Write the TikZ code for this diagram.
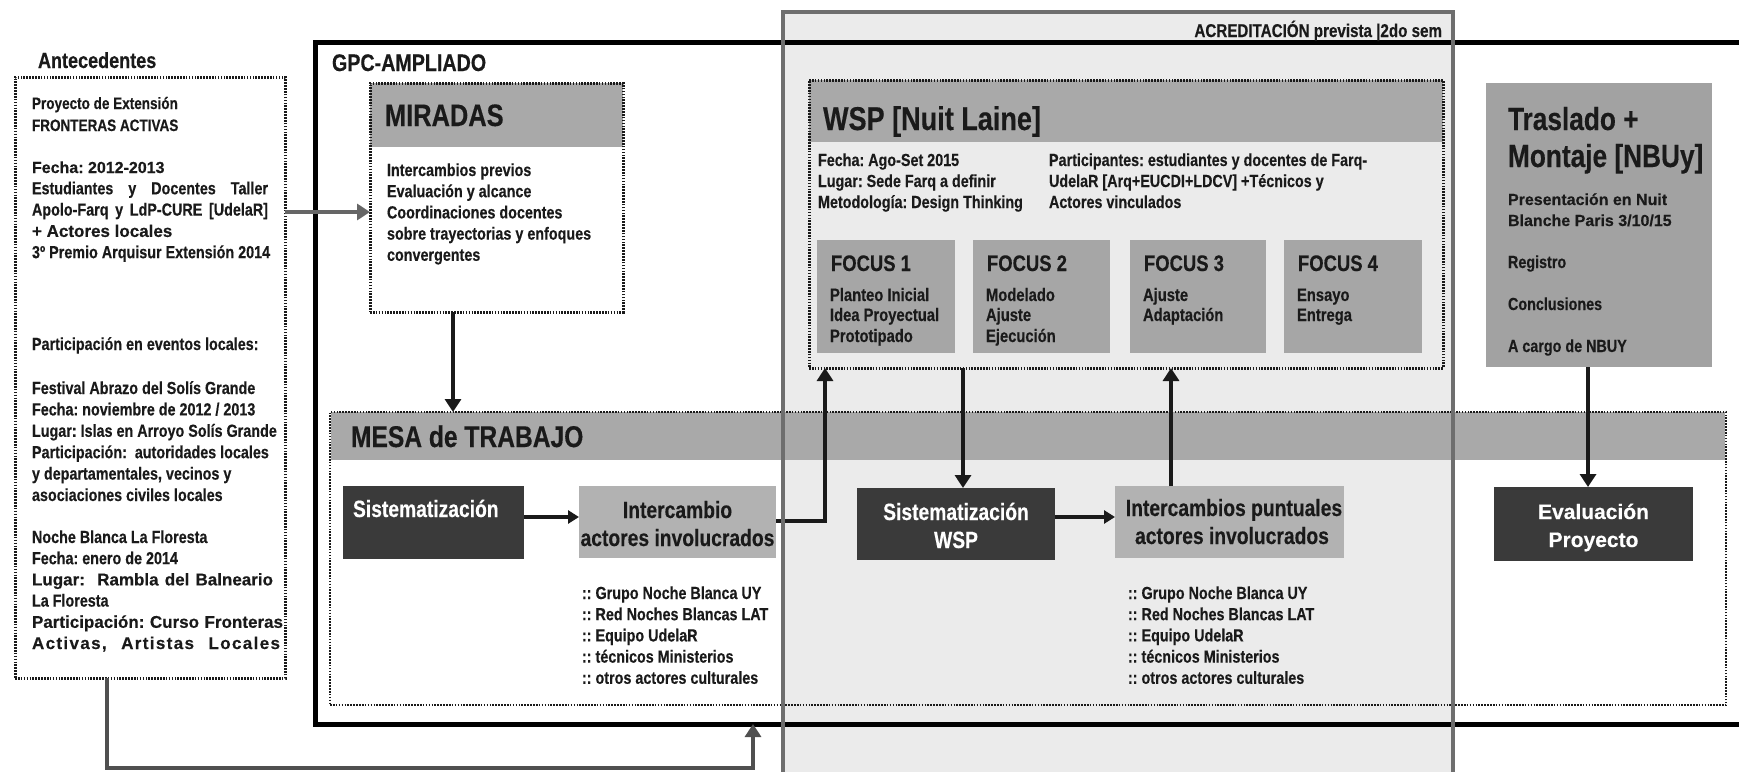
\documentclass[tikz,border=0pt]{standalone}
\usepackage{fontspec}
\setmainfont{Liberation Sans}
\newfontfamily\cf[FakeStretch=0.82,FakeBold=0.35]{Liberation Sans}
\newfontfamily\cw[FakeBold=0.35]{Liberation Sans}
\newfontfamily\cls[LetterSpace=8,FakeBold=0.35]{Liberation Sans}
\usetikzlibrary{arrows.meta}
\definecolor{acrfill}{HTML}{EBEBEB}
\definecolor{acrline}{HTML}{6E6E6E}
\definecolor{hdr}{HTML}{A9A9A9}
\definecolor{focusc}{HTML}{A6A6A6}
\definecolor{trasc}{HTML}{A2A2A2}
\definecolor{intc}{HTML}{B2B2B2}
\definecolor{darkc}{HTML}{3A3A3A}
\definecolor{ink}{HTML}{1A1A1A}
\definecolor{arrgray}{HTML}{666666}
\definecolor{conn}{HTML}{505050}
\newcommand\setfs[2]{\fontsize{#1}{#2}\selectfont}
\tikzset{
  boxr/.style={inner sep=0pt, outer sep=0pt, anchor=north west},
  dotbox/.style={boxr, draw=ink, line width=3pt, dash pattern=on 1.6pt off 1.3pt},
  txt/.style={inner sep=0pt, outer sep=0pt, anchor=base west, text=ink},
  ctxt/.style={txt, anchor=base},
  bodytxt/.style={txt, font=\frenchspacing\cf\bfseries\setfs{17.5}{21}},
  widetxt/.style={txt, font=\frenchspacing\cw\bfseries\setfs{17}{21}},
  conarr/.style={-{Triangle[length=13pt,width=16pt]}, line width=4.5pt, draw=ink},
  thinarr/.style={-{Triangle[length=11pt,width=13pt]}, line width=3.5pt, draw=ink},
}
\begin{document}
\begin{tikzpicture}[x=1pt,y=-1pt]
\useasboundingbox (0,0) rectangle (1739,771);
\fill[white] (0,0) rectangle (1739,771);
% accreditation band (background)
\node[boxr, fill=acrfill, minimum width=670pt, minimum height=780pt] (acr) at (783,12) {};
% GPC box
\node[boxr, draw=black, line width=5pt, minimum width=1440pt, minimum height=682pt] (gpc) at (315,42) {};
\node[txt, font=\cf\bfseries\setfs{24}{28}] (gpct) at (332,71) {GPC-AMPLIADO};
\node[txt, anchor=base east, font=\cf\bfseries\setfs{18.5}{22}] (acrt) at (1442,37) {ACREDITACIÓN prevista |2do sem};
% Antecedentes
\node[txt, font=\cf\bfseries\setfs{22}{26}] (antt) at (38,68) {Antecedentes};
\node[dotbox, minimum width=270pt, minimum height=601pt] (ant) at (15,77) {};
\node[txt, font=\cf\bfseries\setfs{16.5}{20}] (antp0) at (32,109) {Proyecto de Extensión};
\node[txt, font=\cf\bfseries\setfs{16.5}{20}] (antp1) at (32,131) {FRONTERAS ACTIVAS};
\node[widetxt, font=\frenchspacing\cw\bfseries\setfs{16}{21}] (antA0) at (32,173) {Fecha: 2012-2013};
\node[bodytxt] (antA1) at (32,194.3) {\makebox[236pt][s]{Estudiantes y Docentes Taller}};
\node[bodytxt] (antA2) at (32,215.6) {\makebox[236pt][s]{Apolo-Farq y LdP-CURE [UdelaR]}};
\node[widetxt] (antA3) at (32,236.9) {+ Actores locales};
\node[bodytxt] (antA4) at (32,258.2) {3º Premio Arquisur Extensión 2014};
\node[bodytxt] (antpart) at (32,350) {Participación en eventos locales:};
\foreach \s [count=\i from 0] in {{Festival Abrazo del Solís Grande},{Fecha: noviembre de 2012 / 2013},{Lugar: Islas en Arroyo Solís Grande},{Participación:\ \ autoridades locales},{y departamentales, vecinos y},{asociaciones civiles locales}}
  \node[bodytxt] (antB\i) at (32,394+21.4*\i) {\s};
\node[bodytxt] (antC0) at (32,543) {Noche Blanca La Floresta};
\node[bodytxt] (antC1) at (32,564.2) {Fecha: enero de 2014};
\node[widetxt] (antC2) at (32,585.4) {\makebox[241pt][s]{Lugar:\ \ Rambla del Balneario}};
\node[bodytxt] (antC3) at (32,606.6) {La Floresta};
\node[widetxt] (antC4) at (32,627.8) {\makebox[251pt][s]{Participación: Curso Fronteras}};
\node[widetxt, font=\frenchspacing\cls\bfseries\setfs{17}{21}] (antC5) at (32,649) {\makebox[248pt][s]{Activas, Artistas Locales}};
% MIRADAS
\node[boxr, fill=hdr, minimum width=253pt, minimum height=64pt] (mirh) at (370,83) {};
\node[dotbox, minimum width=253pt, minimum height=229pt] (mir) at (370,83) {};
\node[txt, font=\cf\bfseries\setfs{31}{36}] (mirt) at (385,126) {MIRADAS};
\foreach \s [count=\i from 0] in {{Intercambios previos},{Evaluación y alcance},{Coordinaciones docentes},{sobre trayectorias y enfoques},{convergentes}}
  \node[bodytxt] (mirb\i) at (387,176+21.2*\i) {\s};
% WSP
\node[boxr, fill=hdr, minimum width=634pt, minimum height=62pt] (wsph) at (809,80) {};
\node[dotbox, minimum width=634pt, minimum height=288pt] (wsp) at (809,80) {};
\node[txt, font=\cf\bfseries\setfs{33}{38}] (wspt) at (823,130) {WSP [Nuit Laine]};
\foreach \s [count=\i from 0] in {{Fecha: Ago-Set 2015},{Lugar: Sede Farq a definir},{Metodología: Design Thinking}}
  \node[bodytxt] (wspl\i) at (818,166+21*\i) {\s};
\foreach \s [count=\i from 0] in {{Participantes: estudiantes y docentes de Farq-},{UdelaR [Arq+EUCDI+LDCV] +Técnicos y},{Actores vinculados}}
  \node[bodytxt] (wspr\i) at (1049,166+21*\i) {\s};
\foreach \n/\x/\w/\a/\b/\c in {1/817/138/Planteo Inicial/Idea Proyectual/Prototipado,2/973/137/Modelado/Ajuste/Ejecución,3/1130/136/Ajuste/Adaptación/{},4/1284/138/Ensayo/Entrega/{}}{
  \node[boxr, fill=focusc, minimum width=\w pt, minimum height=113pt] (f\n) at (\x,240) {};
  \node[txt, font=\cf\bfseries\setfs{22.5}{26}] (f\n t) at (\x+14,271) {FOCUS \n};
  \node[bodytxt, font=\cf\bfseries\setfs{18}{21}] (f\n a) at (\x+13,301) {\a};
  \node[bodytxt, font=\cf\bfseries\setfs{18}{21}] (f\n b) at (\x+13,321) {\b};
  \node[bodytxt, font=\cf\bfseries\setfs{18}{21}] (f\n c) at (\x+13,342) {\c};
}
% Traslado
\node[boxr, fill=trasc, minimum width=226pt, minimum height=284pt] (tras) at (1486,83) {};
\node[txt, font=\cf\bfseries\setfs{32}{37}] (trast1) at (1508,130) {Traslado +};
\node[txt, font=\cf\bfseries\setfs{32}{37}] (trast2) at (1508,167) {Montaje [NBUy]};
\node[txt, font=\cw\bfseries\setfs{16}{21}] (trasb1) at (1508,205) {Presentación en Nuit};
\node[txt, font=\cw\bfseries\setfs{16}{21}] (trasb2) at (1508,226) {Blanche Paris 3/10/15};
\node[bodytxt] (trasb3) at (1508,268) {Registro};
\node[bodytxt] (trasb4) at (1508,310) {Conclusiones};
\node[bodytxt] (trasb5) at (1508,352) {A cargo de NBUY};
% Mesa de trabajo
\node[boxr, fill=hdr, minimum width=1394pt, minimum height=48pt] (mesah) at (331,412) {};
\node[dotbox, line width=2.5pt, minimum width=1396pt, minimum height=293pt] (mesa) at (330,412) {};
\node[txt, font=\cf\bfseries\setfs{30}{35}] (mesat) at (351,447) {MESA de TRABAJO};
\node[boxr, fill=darkc, minimum width=181pt, minimum height=73pt] (sis) at (343,486) {};
\node[txt, text=white, font=\cf\bfseries\setfs{23.5}{28}] (sist) at (353,517) {Sistematización};
\node[boxr, fill=intc, minimum width=197pt, minimum height=72pt] (int) at (579,486) {};
\node[ctxt, font=\cf\bfseries\setfs{23.5}{28}] (intt1) at (677.5,518) {Intercambio};
\node[ctxt, font=\cf\bfseries\setfs{23.5}{28}] (intt2) at (677.5,546) {actores involucrados};
\node[boxr, fill=darkc, minimum width=198pt, minimum height=72pt] (sisw) at (857,488) {};
\node[ctxt, text=white, font=\cf\bfseries\setfs{23.5}{28}] (siswt1) at (956,520) {Sistematización};
\node[ctxt, text=white, font=\cf\bfseries\setfs{23.5}{28}] (siswt2) at (956,548) {WSP};
\node[boxr, fill=intc, minimum width=229pt, minimum height=72pt] (intp) at (1115,486) {};
\node[ctxt, font=\cf\bfseries\setfs{23.5}{28}] (intpt1) at (1234,516) {Intercambios puntuales};
\node[ctxt, font=\cf\bfseries\setfs{23.5}{28}] (intpt2) at (1232,544) {actores involucrados};
\node[boxr, fill=darkc, minimum width=199pt, minimum height=74pt] (eva) at (1494,487) {};
\node[ctxt, text=white, font=\cw\bfseries\setfs{21}{26}] (evat1) at (1593.5,519) {Evaluación};
\node[ctxt, text=white, font=\cw\bfseries\setfs{21}{26}] (evat2) at (1593.5,547) {Proyecto};
\foreach \s [count=\i from 0] in {{:: Grupo Noche Blanca UY},{:: Red Noches Blancas LAT},{:: Equipo UdelaR},{:: técnicos Ministerios},{:: otros actores culturales}}{
  \node[bodytxt] (lstA\i) at (582,599+21.2*\i) {\s};
  \node[bodytxt] (lstB\i) at (1128,599+21.2*\i) {\s};
}
% connectors
\draw[conarr, draw=arrgray] (ant.east |- 0,212) -- (mir.west |- 0,212);
\draw[conarr] (453,0 |- mir.south) -- (453,0 |- mesa.north);
\draw[thinarr] (sis.east |- 0,517) -- (int.west |- 0,517);
\draw[conarr] (int.east |- 0,521) -| (825,0 |- wsp.south);
\draw[conarr] (963,0 |- wsp.south) -- (963,0 |- sisw.north);
\draw[thinarr] (sisw.east |- 0,517) -- (intp.west |- 0,517);
\draw[conarr] (1171,0 |- intp.north) -- (1171,0 |- wsp.south);
\draw[conarr] (1588,0 |- tras.south) -- (1588,0 |- eva.north);
\draw[conarr, draw=conn] (107,0 |- ant.south) -- (107,768) -- (753,768) -- (753,0 |- gpc.south);
% accreditation border on top
\draw[acrline, line width=4pt] (acr.south west) -- (acr.north west) -- (acr.north east) -- (acr.south east);
\end{tikzpicture}
\end{document}
